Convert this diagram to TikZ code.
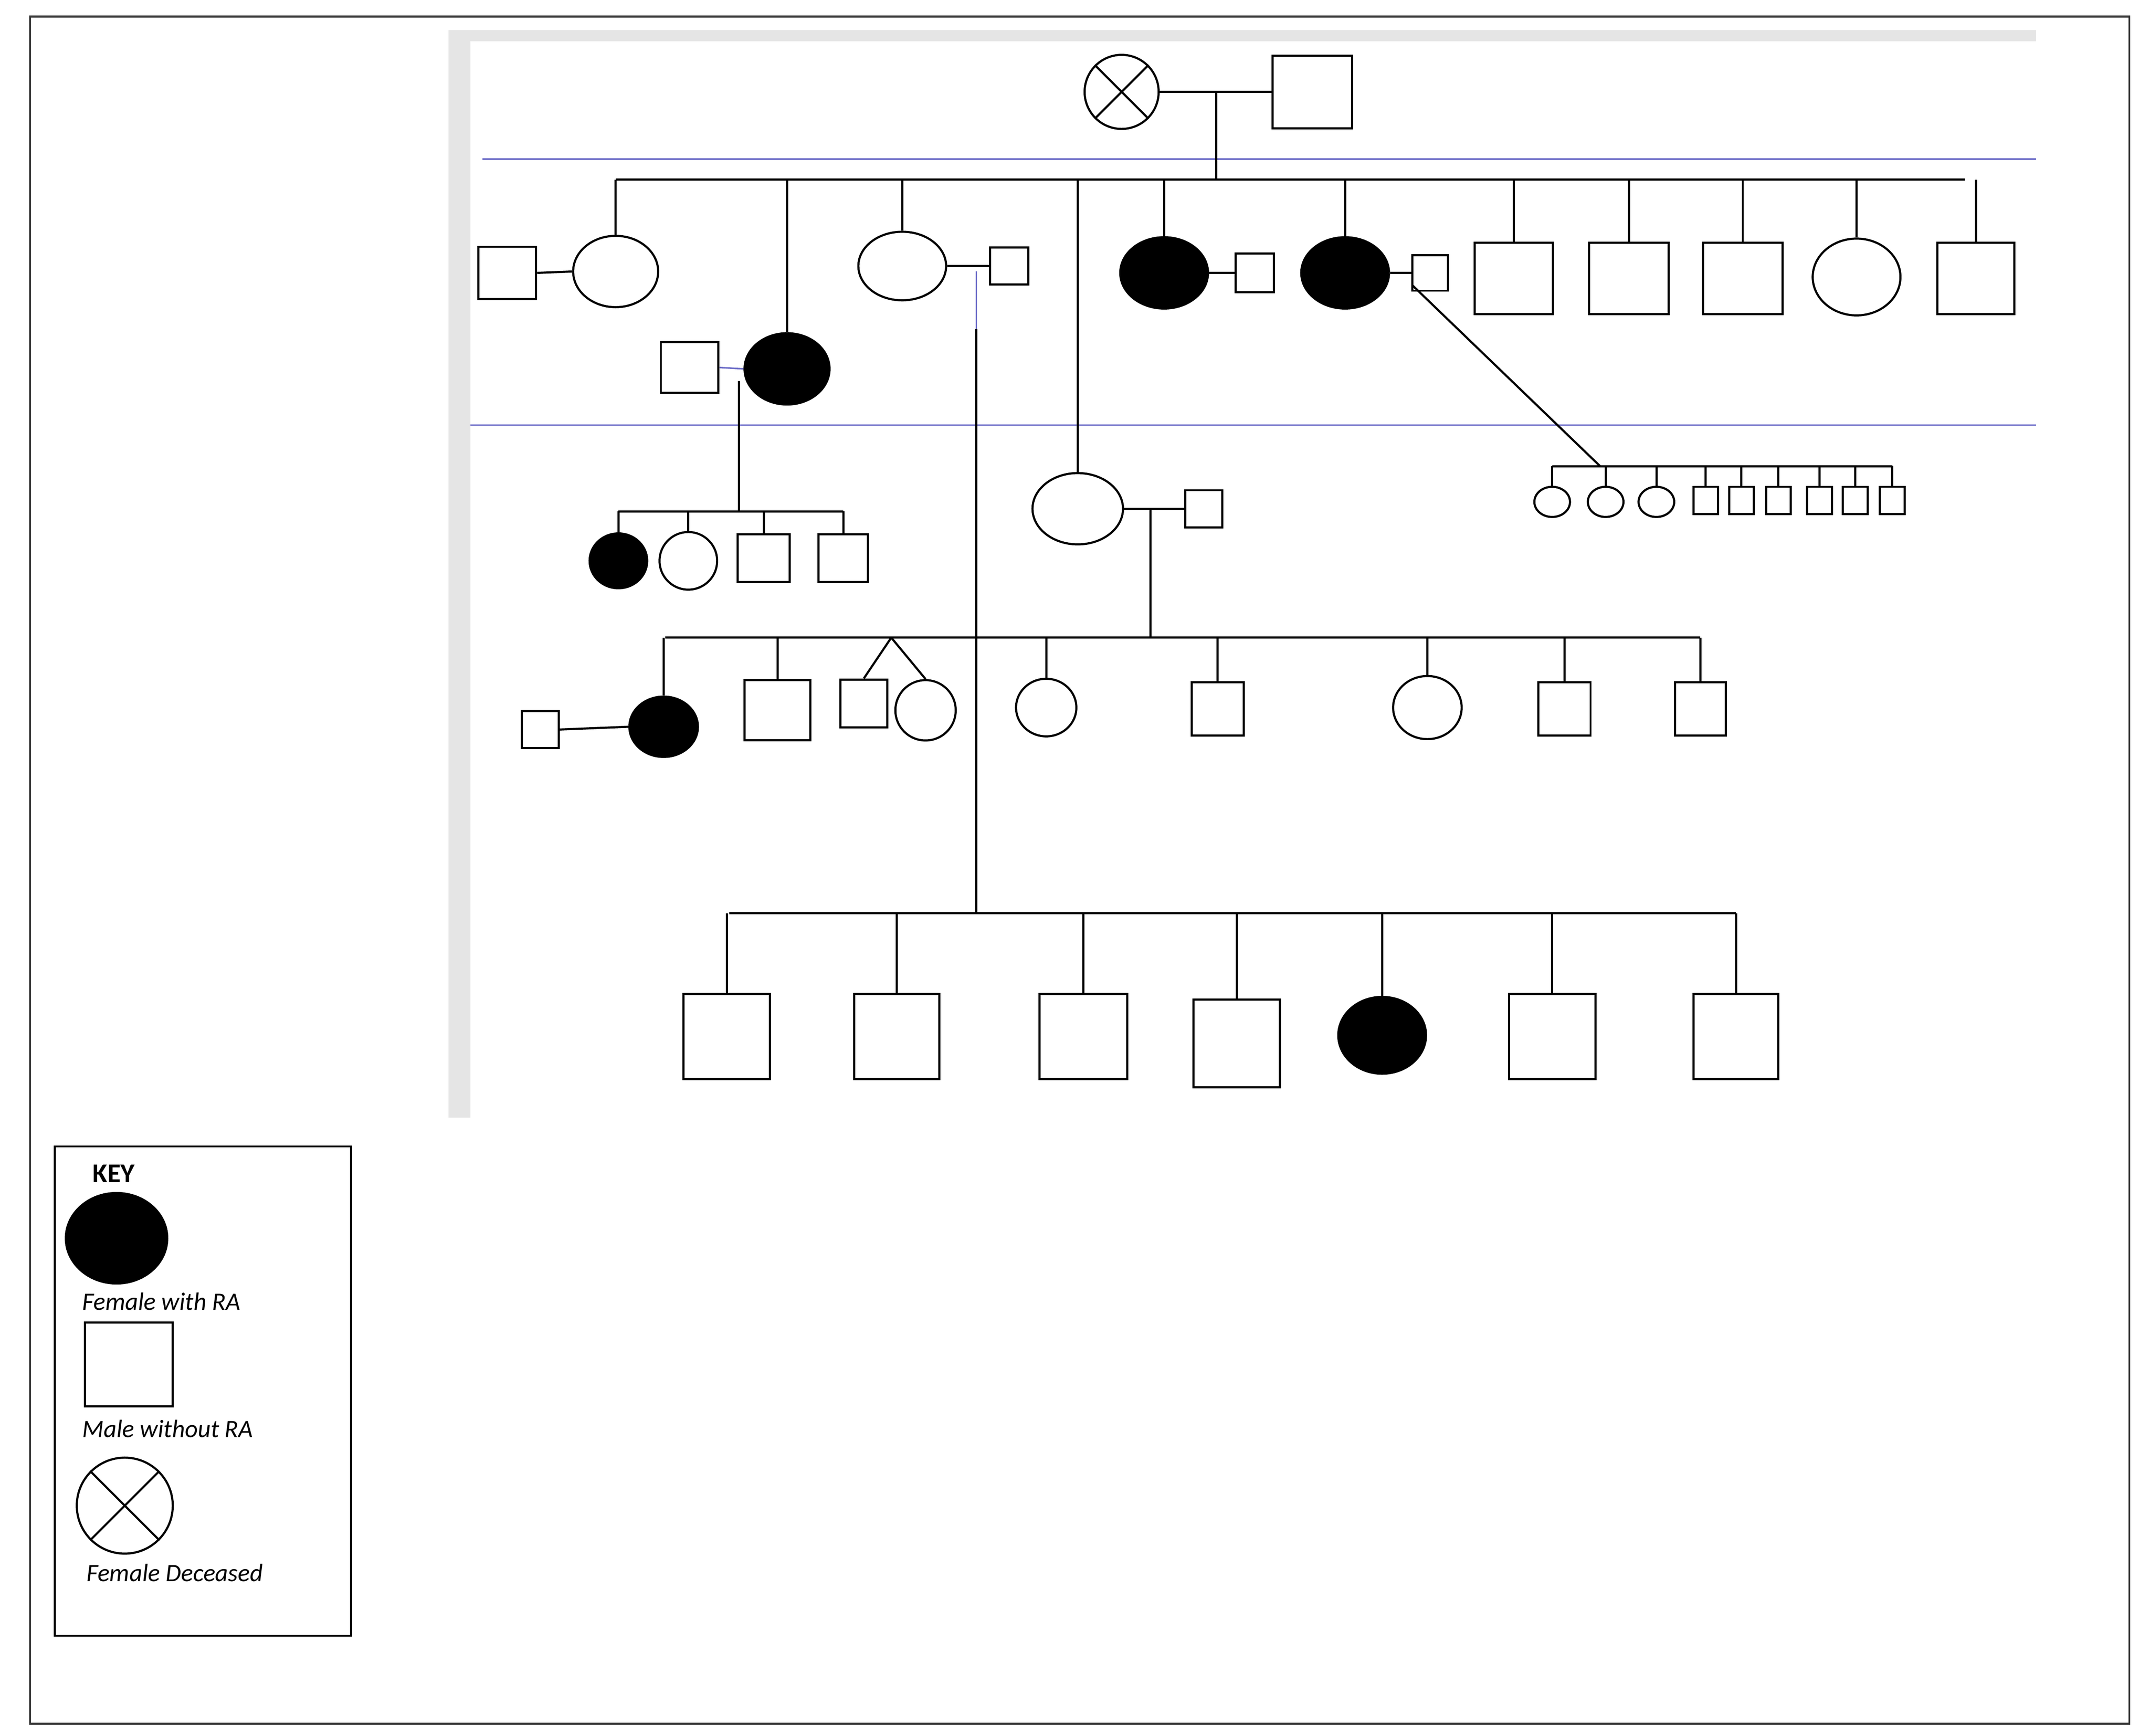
\documentclass[tikz,border=0pt]{standalone}
\usepackage{fontspec}
\setmainfont{Carlito}
\usetikzlibrary{shapes.geometric,shapes.misc}
\def\un{0.5mm}
\begin{document}
\begin{tikzpicture}[x=0.5mm,y=-0.5mm,line width=2.2pt,
  sq/.style args={#1/#2}{draw,rectangle,inner sep=0,minimum width=#1*\un,minimum height=#2*\un},
  el/.style args={#1/#2}{draw,ellipse,inner sep=0,minimum width=#1*\un,minimum height=#2*\un},
  fel/.style args={#1/#2}{el=#1/#2,fill=black},
  xc/.style={draw,circle,cross out,inner sep=0,minimum size=#1*\un},
  gen/.style={draw=blue!45!gray!80,line width=1.6pt},
  lbl/.style={font=\fontsize{26}{30}\selectfont\itshape,anchor=west}]
\useasboundingbox (0,0) rectangle (1568,1266);
\draw[line width=2pt,black!80] (22,12) rectangle (1553,1257);
\fill[black!10] (327,22) rectangle (343,815);
\fill[black!10] (327,22) rectangle (1485,30);
\draw[gen] (352,116) -- (1485,116);
\draw[gen] (343,310) -- (1485,310);
% Gen I
\node[draw,circle,inner sep=0,minimum size=54*\un] (g1f) at (818,67) {};
\draw (g1f.45) -- (g1f.225) (g1f.135) -- (g1f.315);
\node[sq=58/53] (g1m) at (957,67) {};
\draw (g1f.east) -- (g1m.west);
\coordinate (m1) at (887,67);
\coordinate (s1a) at (449,131); \coordinate (s1b) at (1433,131);
\draw (m1) -- (m1 |- s1a);
\draw (s1a) -- (s1b);
% Gen II
\node[el=62/52] (c1) at (449,198) {};
\node[sq=42/38] (c1s) at (370,199) {};
\draw (c1s.east) -- (c1.west);
\draw (c1.north |- s1a) -- (c1.north);
\node[fel=62/52] (c2) at (574,269) {};
\node[sq=42/37] (c2s) at (503,268) {};
\draw[gen] (c2s.east) -- (c2.west);
\draw (c2.north |- s1a) -- (c2.north);
\node[el=64/50] (c3) at (658,194) {};
\node[sq=28/27] (c3s) at (736,194) {};
\draw (c3.east) -- (c3s.west);
\draw (c3.north |- s1a) -- (c3.north);
\coordinate (c3d) at (712,198);
\coordinate (c3e) at (712,240);
\draw[gen] (c3d) -- (c3e);
\coordinate (s4a) at (532,666); \coordinate (s4b) at (1266,666);
\draw (c3e) -- (c3e |- s4a);
\draw (s4a) -- (s4b);
\node[el=66/52] (c4) at (786,371) {};
\node[sq=27/27] (c4s) at (878,371) {};
\draw (c4.east) -- (c4s.west);
\draw (c4.north |- s1a) -- (c4.north);
\node[fel=64/52] (c5) at (849,199) {};
\node[sq=28/28] (c5s) at (915,199) {};
\draw (c5.east) -- (c5s.west);
\draw (c5.north |- s1a) -- (c5.north);
\node[fel=64/52] (c6) at (981,199) {};
\node[sq=26/26] (c6s) at (1043,199) {};
\draw (c6.east) -- (c6s.west);
\draw (c6.north |- s1a) -- (c6.north);
\node[sq=57/52] (c7) at (1104,203) {};
\node[sq=58/52] (c8) at (1188,203) {};
\node[sq=58/52] (c9) at (1271,203) {};
\node[el=64/56] (c10) at (1354,202) {};
\node[sq=56/52] (c11) at (1441,203) {};
\foreach \n in {c7,c8,c9,c10,c11} \draw (\n.north |- s1a) -- (\n.north);
% children of c2
\coordinate (m2) at (539,278);
\coordinate (s2a) at (451,373); \coordinate (s2b) at (615,373);
\draw (m2) -- (m2 |- s2a);
\draw (s2a) -- (s2b);
\node[fel=42/40] (d1) at (451,409) {};
\node[el=42/42] (d2) at (502,409) {};
\node[sq=38/35] (d3) at (557,407) {};
\node[sq=36/35] (d4) at (615,407) {};
\foreach \n in {d1,d2,d3,d4} \draw (\n.north |- s2a) -- (\n.north);
% children of c6
\coordinate (m6) at (1030,208);
\coordinate (s6a) at (1132,340); \coordinate (s6b) at (1380,340);
\coordinate (s6m) at (1167,340);
\draw (m6) -- (s6m);
\draw (s6a) -- (s6b);
\draw[gen] (1297,340) -- (1297,348);
\foreach \x [count=\i] in {1132,1171,1208} {
  \node[el=26/22] (e\i) at (\x,366) {};
  \draw (e\i.north |- s6a) -- (e\i.north);}
\foreach \x [count=\i from 4] in {1244,1270,1297,1327,1353,1380} {
  \node[sq=18/20] (e\i) at (\x,365) {};
  \draw (e\i.north |- s6a) -- (e\i.north);}
% children of c4
\coordinate (m4) at (839,371);
\coordinate (s3a) at (485,465); \coordinate (s3b) at (1240,465);
\draw (m4) -- (m4 |- s3a);
\draw (s3a) -- (s3b);
\node[fel=50/44] (f1) at (484,530) {};
\node[sq=27/27] (f1s) at (394,532) {};
\draw (f1s.east) -- (f1.west);
\node[sq=48/44] (f2) at (567,518) {};
\node[sq=34/35] (f3) at (630,513) {};
\node[el=44/44] (f4) at (675,518) {};
\coordinate (tw) at (650,465);
\draw (tw) -- (f3.north) (tw) -- (f4.north);
\node[el=44/42] (f5) at (763,516) {};
\node[sq=38/39] (f6) at (888,517) {};
\node[el=50/46] (f7) at (1041,516) {};
\node[sq=38/39] (f8) at (1141,517) {};
\node[sq=37/39] (f9) at (1240,517) {};
\foreach \n in {f1,f2,f5,f6,f7,f8,f9} \draw (\n.north |- s3a) -- (\n.north);
% children of c3
\node[sq=63/62] (h1) at (530,756) {};
\node[sq=62/62] (h2) at (654,756) {};
\node[sq=64/62] (h3) at (790,756) {};
\node[sq=63/64] (h4) at (902,761) {};
\node[fel=64/56] (h5) at (1008,755) {};
\node[sq=63/62] (h6) at (1132,756) {};
\node[sq=62/62] (h7) at (1266,756) {};
\foreach \n in {h1,h2,h3,h4,h5,h6,h7} \draw (\n.north |- s4a) -- (\n.north);
% Key
\draw[line width=2pt] (40,836) rectangle (256,1193);
\node[font=\fontsize{28}{32}\selectfont\bfseries] (kt) at (83,856) {KEY};
\node[fel=74/66] (k1) at (85,903) {};
\node[lbl] (k1t) at (57,949) {Female with RA};
\node[sq=64/61] (k2) at (94,995) {};
\node[lbl] (k2t) at (57,1042) {Male without RA};
\node[draw,circle,inner sep=0,minimum size=70*\un] (k3) at (91,1098) {};
\draw (k3.45) -- (k3.225) (k3.135) -- (k3.315);
\node[lbl] (k3t) at (60,1147) {Female Deceased};
\end{tikzpicture}
\end{document}
